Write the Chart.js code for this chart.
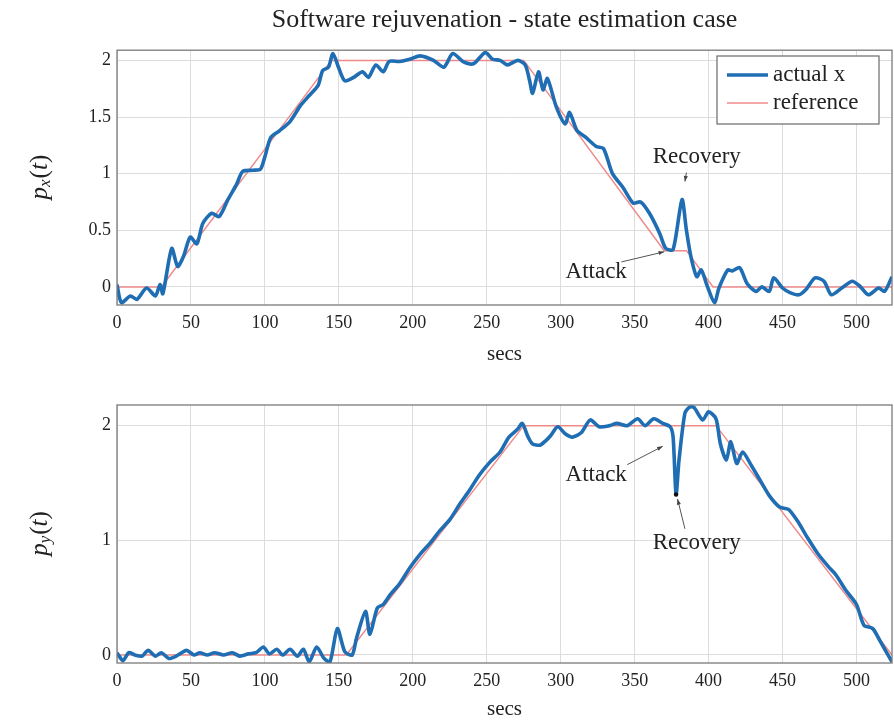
<!DOCTYPE html>
<html>
<head>
<meta charset="utf-8">
<script src="https://cdn.jsdelivr.net/npm/chart.js@4.4.1/dist/chart.umd.min.js"></script>
<style>
  body { margin: 0; background: #fff; }
  .box { position: absolute; left: 0; width: 894px; }
  #top-box { top: 0; height: 372px; }
  #bottom-box { top: 380px; height: 340px; }
</style>
</head>
<body>
<div class="box" id="top-box"><canvas id="chart-x" width="894" height="372"></canvas></div>
<div class="box" id="bottom-box"><canvas id="chart-y" width="894" height="340"></canvas></div>
<script>
const xTicks = [0, 50, 100, 150, 200, 250, 300, 350, 400, 450, 500]
const pxTicks = [0, 0.5, 1, 1.5, 2]
const pyTicks = [0, 1, 2]

// p_x(t): measured
const tX = [0, 3, 9, 13.5, 20, 26, 29, 31, 37, 41, 45, 49.5, 54, 58, 64, 69, 75, 81, 85, 92, 97, 100, 104, 110, 117, 124, 130, 136, 139, 143, 146, 150, 154, 160, 166, 170, 175, 180, 184, 191, 198, 205, 214, 221, 227, 234, 241, 249, 254, 259, 264, 271, 276, 279, 281, 285, 288, 291, 297, 303, 306, 311, 317, 324, 329, 335, 342, 349, 354, 360, 367, 371, 376, 382, 385, 388, 392, 395, 399, 404, 407, 413, 416, 421, 426, 432, 436, 441, 444, 450, 455, 461, 466, 472, 478, 483, 490, 497, 502, 508, 515, 519, 524]
const actualX = [0.02, -0.14, -0.08, -0.11, -0.01, -0.08, 0.02, -0.06, 0.34, 0.18, 0.27, 0.44, 0.38, 0.56, 0.65, 0.62, 0.77, 0.91, 1.02, 1.03, 1.04, 1.15, 1.32, 1.38, 1.46, 1.60, 1.69, 1.78, 1.91, 1.94, 2.06, 1.93, 1.82, 1.85, 1.90, 1.85, 1.96, 1.90, 1.99, 1.99, 2.01, 2.04, 2.00, 1.94, 2.06, 1.99, 1.97, 2.07, 2.01, 2.00, 1.96, 2.00, 1.96, 1.82, 1.71, 1.90, 1.74, 1.84, 1.59, 1.44, 1.54, 1.38, 1.32, 1.24, 1.22, 1.00, 0.88, 0.74, 0.75, 0.65, 0.47, 0.34, 0.33, 0.77, 0.50, 0.27, 0.09, 0.15, 0.01, -0.14, -0.01, 0.15, 0.14, 0.17, 0.03, -0.04, 0.00, -0.04, 0.08, -0.01, -0.05, -0.07, -0.02, 0.08, 0.05, -0.07, -0.01, 0.05, 0.01, -0.07, -0.01, -0.04, 0.09]
// p_x(t): reference
const tRefX = [0, 30, 145, 275, 370, 385, 403, 524]
const refX = [0, 0, 2, 2, 0.32, 0.32, 0, 0]

// p_y(t): measured
const tY = [0, 1, 4, 8, 12, 17, 21, 26, 30, 35, 40, 47, 52, 56, 61, 66, 72, 78, 83, 89, 94, 99, 103, 108, 112, 117, 122, 126, 130, 135, 140, 144, 149, 154, 159, 162, 168, 171, 176, 180, 185, 191, 198, 205, 212, 218, 225, 232, 238, 245, 252, 259, 265, 271, 274, 278, 281, 286, 290, 293, 298, 303, 308, 314, 320, 326, 333, 338, 345, 352, 357, 363, 369, 374, 376, 378, 380, 384, 387, 390, 396, 400, 405, 408, 412, 415, 419, 423, 429, 435, 441, 448, 454, 460, 467, 474, 481, 486, 493, 500, 505, 511, 516, 524]
const actualY = [0.02, 0, -0.05, 0.02, 0, -0.01, 0.04, -0.01, 0.02, -0.03, -0.01, 0.04, 0, 0.02, 0, 0.02, 0, 0.02, -0.01, 0.01, 0.02, 0.07, 0.01, 0.05, 0, 0.05, -0.01, 0.05, -0.06, 0.07, -0.03, -0.06, 0.23, 0.03, 0, 0.15, 0.38, 0.18, 0.41, 0.44, 0.53, 0.62, 0.76, 0.88, 0.98, 1.08, 1.18, 1.32, 1.43, 1.57, 1.68, 1.77, 1.90, 1.97, 2.02, 1.90, 1.84, 1.83, 1.87, 1.91, 1.99, 1.93, 1.90, 1.94, 2.05, 1.99, 2.00, 2.02, 2.00, 2.06, 2.00, 2.06, 2.02, 1.99, 1.90, 1.40, 1.70, 2.11, 2.16, 2.16, 2.05, 2.12, 2.06, 1.84, 1.70, 1.86, 1.67, 1.77, 1.65, 1.52, 1.39, 1.29, 1.27, 1.17, 1.02, 0.88, 0.77, 0.70, 0.56, 0.44, 0.26, 0.23, 0.12, -0.06]
// p_y(t): reference
const tRefY = [0, 155, 275, 405, 524]
const refY = [0, 0, 2, 2, 0]

const serif = "'Liberation Serif', 'DejaVu Serif', serif"
const blue = '#1f6db3'
const red = '#f08a8a'

const pts = (ts, vs) => ts.map((t, i) => ({x: t, y: vs[i]}))

// frame, legend, y label and notes
const extras = {
    id: 'extras',
    afterDraw(chart, args, o) {
        const {ctx, chartArea: a, scales: {x, y}} = chart
        ctx.save()
        ctx.strokeStyle = '#7a7a7a'
        ctx.lineWidth = 1.3
        ctx.strokeRect(a.left, a.top, a.right - a.left, a.bottom - a.top)

        // y label p_?(t)
        ctx.save()
        ctx.translate(o.yLabelX, (a.top + a.bottom) / 2)
        ctx.rotate(-Math.PI / 2)
        ctx.fillStyle = '#222'
        ctx.textBaseline = 'middle'
        const big = '25px ' + serif, bigI = 'italic 25px ' + serif, subI = 'italic 17px ' + serif
        ctx.font = bigI
        const wp = ctx.measureText('p').width
        const wtt = ctx.measureText('t').width
        ctx.font = subI
        const ws = ctx.measureText(o.sub).width
        ctx.font = big
        const wl = ctx.measureText('(').width
        const wr = ctx.measureText(')').width
        let sx = -(wp + ws + wl + wtt + wr) / 2
        ctx.font = bigI
        ctx.fillText('p', sx, 0)
        ctx.font = subI
        ctx.fillText(o.sub, sx + wp, 6)
        ctx.font = big
        ctx.fillText('(', sx + wp + ws + 1, 0)
        ctx.font = bigI
        ctx.fillText('t', sx + wp + ws + 1 + wl, 0)
        ctx.font = big
        ctx.fillText(')', sx + wp + ws + 1 + wl + wtt, 0)
        ctx.restore()

        // notes with arrows
        ctx.font = '23px ' + serif
        ctx.textAlign = 'center'
        ctx.textBaseline = 'middle'
        o.notes.forEach(n => {
            ctx.fillStyle = '#222'
            ctx.fillText(n.text, x.getPixelForValue(n.at[0]), y.getPixelForValue(n.at[1]))
            const x0 = x.getPixelForValue(n.from[0]), y0 = y.getPixelForValue(n.from[1])
            const x1 = x.getPixelForValue(n.to[0]), y1 = y.getPixelForValue(n.to[1])
            ctx.strokeStyle = '#555'
            ctx.lineWidth = 1
            ctx.beginPath()
            ctx.moveTo(x0, y0)
            ctx.lineTo(x1, y1)
            ctx.stroke()
            const ang = Math.atan2(y1 - y0, x1 - x0)
            ctx.fillStyle = '#444'
            ctx.beginPath()
            ctx.moveTo(x1, y1)
            ctx.lineTo(x1 - 6 * Math.cos(ang - 0.35), y1 - 6 * Math.sin(ang - 0.35))
            ctx.lineTo(x1 - 6 * Math.cos(ang + 0.35), y1 - 6 * Math.sin(ang + 0.35))
            ctx.closePath()
            ctx.fill()
            if (n.dot) {
                ctx.fillStyle = '#111'
                ctx.beginPath()
                ctx.arc(x.getPixelForValue(n.dot[0]), y.getPixelForValue(n.dot[1]), 2.2, 0, Math.PI * 2)
                ctx.fill()
            }
        })

        // legend box
        const L = o.legend
        ctx.fillStyle = '#fff'
        ctx.fillRect(L.x, L.y, L.w, L.h)
        ctx.strokeStyle = '#6a6a6a'
        ctx.lineWidth = 1.2
        ctx.strokeRect(L.x, L.y, L.w, L.h)
        ctx.textAlign = 'left'
        ctx.font = '23px ' + serif
        chart.data.datasets.forEach((ds, i) => {
            const cy = L.y + 19 + i * 28
            ctx.strokeStyle = ds.borderColor
            ctx.lineWidth = ds.borderWidth
            ctx.beginPath()
            ctx.moveTo(L.x + 10, cy)
            ctx.lineTo(L.x + 51, cy)
            ctx.stroke()
            ctx.fillStyle = '#222'
            ctx.fillText(ds.label, L.x + 56, cy)
        })
        ctx.restore()
    }
}

function makeChart(id, cfg) {
    return new Chart(document.getElementById(id), {
        type: 'line',
        data: {
            datasets: [{
                label: cfg.names[0],
                data: pts(cfg.t, cfg.actual),
                borderColor: blue,
                borderWidth: 3.6,
                pointRadius: 0,
                tension: 0.25,
                order: 1
            }, {
                label: cfg.names[1],
                data: pts(cfg.tRef, cfg.ref),
                borderColor: red,
                borderWidth: 1.5,
                pointRadius: 0,
                tension: 0,
                order: 2
            }]
        },
        options: {
            responsive: false,
            animation: false,
            layout: {padding: {left: 0, right: 2, top: cfg.padTop, bottom: 0}},
            plugins: {
                legend: {display: false},
                tooltip: {enabled: false},
                title: cfg.title ? {
                    display: true,
                    fullSize: false,
                    text: cfg.title,
                    color: '#222',
                    font: {family: serif, size: 26, weight: 'normal'},
                    padding: {top: 5, bottom: 14}
                } : {display: false},
                extras: {sub: cfg.sub, yLabelX: 40, notes: cfg.notes, legend: cfg.legend}
            },
            scales: {
                x: {
                    type: 'linear',
                    min: 0,
                    max: 524,
                    afterBuildTicks: s => { s.ticks = xTicks.map(v => ({value: v})) },
                    afterFit: s => { s.height = cfg.xHeight },
                    grid: {color: '#dcdcdc', drawTicks: false},
                    border: {display: false},
                    ticks: {color: '#222', padding: 7, font: {family: serif, size: 18}, maxRotation: 0, callback: v => String(v)},
                    title: {display: true, text: 'secs', color: '#222', font: {family: serif, size: 21}, padding: {top: 0, bottom: cfg.secsPad}}
                },
                y: {
                    type: 'linear',
                    min: cfg.yMin,
                    max: cfg.yMax,
                    afterBuildTicks: s => { s.ticks = cfg.yTicks.map(v => ({value: v})) },
                    afterFit: s => { s.width = 117 },
                    grid: {color: '#dcdcdc', drawTicks: false},
                    border: {display: false},
                    ticks: {color: '#222', padding: 6, font: {family: serif, size: 18}, callback: v => String(v)}
                }
            }
        },
        plugins: [extras]
    })
}

makeChart('chart-x', {
    title: 'Software rejuvenation - state estimation case',
    names: ['actual x', 'reference'],
    t: tX, actual: actualX, tRef: tRefX, ref: refX,
    sub: 'x', yMin: -0.16, yMax: 2.09, yTicks: pxTicks,
    padTop: 0, xHeight: 67, secsPad: 5,
    legend: {x: 717, y: 56, w: 162, h: 68},
    notes: [
        {text: 'Recovery', at: [392, 1.15], from: [385, 1.01], to: [384, 0.93]},
        {text: 'Attack', at: [324, 0.13], from: [341, 0.22], to: [370, 0.31]}
    ]
})

makeChart('chart-y', {
    names: ['actual y', 'reference'],
    t: tY, actual: actualY, tRef: tRefY, ref: refY,
    sub: 'y', yMin: -0.07, yMax: 2.18, yTicks: pyTicks,
    padTop: 25, xHeight: 57, secsPad: -2,
    legend: {x: 200, y: 410, w: 162, h: 68},
    notes: [
        {text: 'Attack', at: [324, 1.57], from: [345, 1.66], to: [369, 1.82]},
        {text: 'Recovery', at: [392, 0.98], from: [384, 1.1], to: [379, 1.36], dot: [378, 1.4]}
    ]
})
</script>
</body>
</html>
